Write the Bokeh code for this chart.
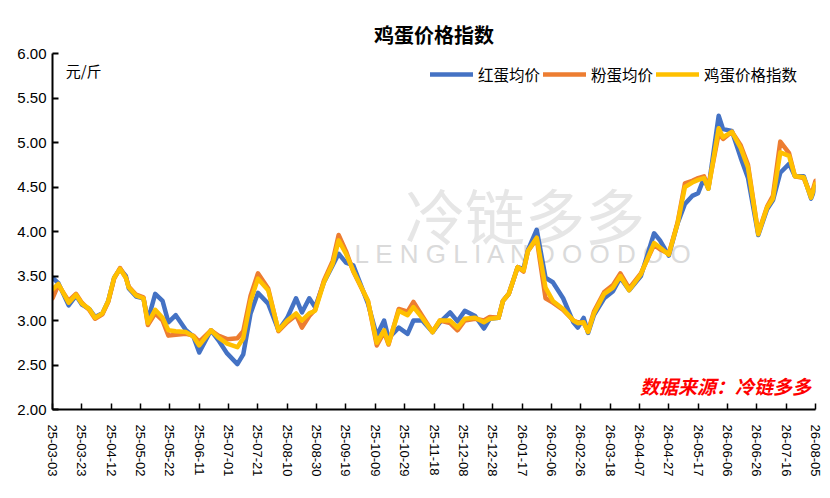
import pandas as pd
from bokeh.plotting import figure
from bokeh.models import (FixedTicker, DatetimeTickFormatter, Range1d, Legend,
                          LegendItem, Label, ColumnDataSource)
from bokeh.embed import file_html
from bokeh.resources import INLINE

# ---------------- data ----------------
dates = [
    "2025-03-03", "2025-03-07", "2025-03-14", "2025-03-19", "2025-03-23", "2025-03-28",
    "2025-04-01", "2025-04-06", "2025-04-10", "2025-04-14", "2025-04-18", "2025-04-22",
    "2025-04-24", "2025-04-29", "2025-05-04", "2025-05-07", "2025-05-12", "2025-05-17",
    "2025-05-21", "2025-05-26", "2025-06-02", "2025-06-07", "2025-06-11", "2025-06-19",
    "2025-06-24", "2025-06-30", "2025-07-07", "2025-07-11", "2025-07-16", "2025-07-21",
    "2025-07-28", "2025-08-04", "2025-08-10", "2025-08-16", "2025-08-20", "2025-08-25",
    "2025-08-29", "2025-09-04", "2025-09-10", "2025-09-14", "2025-09-19", "2025-09-24",
    "2025-10-04", "2025-10-10", "2025-10-15", "2025-10-18", "2025-10-25", "2025-10-31",
    "2025-11-04", "2025-11-10", "2025-11-17", "2025-11-22", "2025-11-29", "2025-12-04",
    "2025-12-09", "2025-12-16", "2025-12-22", "2025-12-26", "2026-01-01", "2026-01-04",
    "2026-01-08", "2026-01-14", "2026-01-18", "2026-01-21", "2026-01-27", "2026-02-02",
    "2026-02-07", "2026-02-14", "2026-02-21", "2026-02-24", "2026-02-28", "2026-03-03",
    "2026-03-07", "2026-03-14", "2026-03-20", "2026-03-25", "2026-03-31", "2026-04-08",
    "2026-04-17", "2026-04-21", "2026-04-27", "2026-05-03", "2026-05-08", "2026-05-13",
    "2026-05-17", "2026-05-21", "2026-05-24", "2026-05-31", "2026-06-03", "2026-06-09",
    "2026-06-15", "2026-06-20", "2026-06-27", "2026-07-03", "2026-07-07", "2026-07-12",
    "2026-07-18", "2026-07-22", "2026-07-28", "2026-08-02", "2026-08-05",
]

red_egg = [  # 红蛋均价
    3.48, 3.42, 3.17, 3.28, 3.18, 3.13, 3.04, 3.08, 3.22, 3.48, 3.58, 3.50,
    3.36, 3.27, 3.25, 3.00, 3.30, 3.22, 2.98, 3.06, 2.89, 2.82, 2.64, 2.89,
    2.78, 2.63, 2.51, 2.62, 3.08, 3.31, 3.19, 2.89, 3.03, 3.25, 3.09, 3.25,
    3.15, 3.43, 3.62, 3.75, 3.65, 3.62, 3.19, 2.83, 3.00, 2.80, 2.92, 2.85,
    3.00, 3.00, 2.87, 2.98, 3.09, 2.99, 3.11, 3.05, 2.91, 3.02, 3.03, 3.22,
    3.30, 3.60, 3.58, 3.79, 4.02, 3.48, 3.43, 3.25, 2.98, 2.92, 3.03, 2.86,
    3.06, 3.25, 3.33, 3.48, 3.34, 3.50, 3.98, 3.90, 3.73, 4.09, 4.31, 4.40,
    4.43, 4.60, 4.48, 5.30, 5.15, 5.13, 4.83, 4.60, 3.96, 4.25, 4.35, 4.66,
    4.76, 4.62, 4.62, 4.37, 4.50,
]

pink_egg = [  # 粉蛋均价
    3.25, 3.40, 3.22, 3.30, 3.20, 3.12, 3.02, 3.07, 3.21, 3.47, 3.59, 3.48,
    3.38, 3.29, 3.26, 2.95, 3.08, 3.00, 2.83, 2.84, 2.85, 2.83, 2.76, 2.89,
    2.83, 2.79, 2.80, 2.88, 3.28, 3.53, 3.36, 2.88, 2.98, 3.06, 2.92, 3.05,
    3.12, 3.45, 3.67, 3.96, 3.78, 3.55, 3.22, 2.72, 2.87, 2.73, 3.13, 3.10,
    3.21, 3.05, 2.87, 3.00, 2.97, 2.89, 3.00, 3.02, 3.00, 3.04, 3.03, 3.22,
    3.30, 3.60, 3.55, 3.78, 3.92, 3.25, 3.20, 3.12, 3.00, 2.98, 2.97, 2.88,
    3.10, 3.32, 3.40, 3.53, 3.36, 3.53, 3.85, 3.80, 3.75, 4.10, 4.54, 4.57,
    4.60, 4.62, 4.50, 5.10, 5.04, 5.12, 4.97, 4.75, 3.98, 4.28, 4.40, 5.01,
    4.88, 4.62, 4.60, 4.40, 4.57,
]

egg_index = [  # 鸡蛋价格指数
    3.35, 3.41, 3.20, 3.29, 3.19, 3.13, 3.03, 3.08, 3.22, 3.48, 3.58, 3.48,
    3.37, 3.28, 3.25, 2.97, 3.12, 3.03, 2.89, 2.88, 2.87, 2.82, 2.72, 2.89,
    2.81, 2.74, 2.70, 2.80, 3.22, 3.47, 3.34, 2.89, 3.00, 3.08, 3.00, 3.08,
    3.11, 3.43, 3.64, 3.90, 3.75, 3.56, 3.22, 2.75, 2.89, 2.74, 3.11, 3.06,
    3.15, 3.03, 2.87, 3.00, 3.00, 2.92, 3.02, 3.03, 2.98, 3.02, 3.03, 3.22,
    3.30, 3.60, 3.56, 3.78, 3.93, 3.37, 3.22, 3.13, 3.00, 2.97, 2.98, 2.87,
    3.08, 3.30, 3.37, 3.50, 3.34, 3.52, 3.87, 3.82, 3.74, 4.09, 4.50, 4.55,
    4.58, 4.60, 4.48, 5.16, 5.06, 5.12, 4.94, 4.72, 3.97, 4.27, 4.37, 4.89,
    4.85, 4.62, 4.61, 4.38, 4.54,
]

series_names = ["红蛋均价", "粉蛋均价", "鸡蛋价格指数"]
series_colors = ["#4472C4", "#ED7D31", "#FFC000"]

x_tick_labels = [
    "25-03-03", "25-03-23", "25-04-12", "25-05-02", "25-05-22", "25-06-11",
    "25-07-01", "25-07-21", "25-08-10", "25-08-30", "25-09-19", "25-10-09",
    "25-10-29", "25-11-18", "25-12-08", "25-12-28", "26-01-17", "26-02-06",
    "26-02-26", "26-03-18", "26-04-07", "26-04-27", "26-05-17", "26-06-06",
    "26-06-26", "26-07-16", "26-08-05",
]
y_ticks = [2.0, 2.5, 3.0, 3.5, 4.0, 4.5, 5.0, 5.5, 6.0]

title_text = "鸡蛋价格指数"
unit_text = "元/斤"
source_text = "数据来源：冷链多多"

# ---------------- figure ----------------
x = pd.to_datetime(dates)
src = ColumnDataSource(dict(x=x, red=red_egg, pink=pink_egg, idx=egg_index))

tick_dates = pd.to_datetime(["20" + t for t in x_tick_labels])
tick_ms = [int(t.value // 10**6) for t in tick_dates]

def ms(d):
    return pd.Timestamp(d).value / 10**6

p = figure(width=822, height=490, x_axis_type="datetime",
           output_backend="svg", toolbar_location=None,
           x_range=Range1d(ms(dates[0]), ms(dates[-1])),
           y_range=Range1d(2, 6),
           min_border_left=52, min_border_right=7,
           min_border_top=53, min_border_bottom=81)

p.title.text = title_text
p.title.align = "center"
p.title.text_font = "Noto Sans CJK SC"
p.title.text_font_size = "20px"
p.title.text_font_style = "bold"
p.title.text_color = "#000000"
p.title.offset = -8

p.outline_line_color = None
p.xgrid.visible = False
p.ygrid.visible = False

# watermark
p.add_layout(Label(x=ms("2026-01-19"), y=4.2, text="冷链多多",
                   text_font="Noto Sans CJK SC", text_font_size="60px",
                   text_color="#e6e6e6", text_align="center",
                   text_baseline="middle", level="underlay"))
p.add_layout(Label(x=ms("2026-01-19"), y=3.75, text="L E N G L I A N D O O D O O",
                   text_font="Liberation Sans", text_font_size="26px",
                   text_color="#dadada", text_align="center",
                   text_baseline="middle", level="underlay"))

renderers = []
for col, name, color in zip(["red", "pink", "idx"], series_names, series_colors):
    r = p.line("x", col, source=src, line_color=color, line_width=4.5,
               line_join="round", line_cap="round")
    renderers.append(r)

legend = Legend(items=[LegendItem(label=n, renderers=[r])
                       for n, r in zip(series_names, renderers)],
                orientation="horizontal", location=(378, 324),
                border_line_color=None, background_fill_alpha=0,
                padding=0, margin=0, spacing=3, label_standoff=5,
                glyph_width=43, glyph_height=16,
                label_text_font="Noto Sans CJK SC", label_text_font_size="15.5px",
                label_text_color="#000000")
p.add_layout(legend)

# axes
xa = p.xaxis[0]
xa.ticker = FixedTicker(ticks=tick_ms)
fmt = "%y-%m-%d"
xa.formatter = DatetimeTickFormatter(milliseconds=fmt, seconds=fmt, minsec=fmt,
                                     minutes=fmt, hourmin=fmt, hours=fmt,
                                     days=fmt, months=fmt, years=fmt)
xa.major_label_orientation = "vertical"
xa.major_label_text_font = "Liberation Sans"
xa.major_label_text_font_size = "13px"
xa.major_label_text_color = "#000000"
xa.major_label_standoff = 15
xa.major_tick_in = 6
xa.major_tick_out = 0
xa.minor_tick_in = 0
xa.minor_tick_out = 0
xa.axis_line_width = 2
xa.major_tick_line_width = 1.5
xa.axis_line_color = "#000000"

ya = p.yaxis[0]
ya.ticker = FixedTicker(ticks=y_ticks)
ya.major_label_overrides = {v: f"{v:.2f}" for v in y_ticks}
ya.major_label_text_font = "Liberation Sans Narrow, Liberation Sans"
ya.major_label_text_font_size = "15px"
ya.major_label_text_color = "#000000"
ya.major_label_standoff = 6
ya.major_tick_in = 6
ya.major_tick_out = 0
ya.minor_tick_in = 0
ya.minor_tick_out = 0
ya.axis_line_width = 2
ya.major_tick_line_width = 2
ya.axis_line_color = "#000000"

# unit and source labels
p.add_layout(Label(x=ms("2025-03-12"), y=5.81, text=unit_text,
                   text_font="Noto Sans CJK SC", text_font_size="15px",
                   text_color="#000000", text_baseline="middle"))
p.add_layout(Label(x=ms("2026-08-02"), y=2.27, text=source_text,
                   text_font="Noto Sans CJK SC", text_font_size="19px",
                   text_font_style="bold italic", text_color="#FF0000",
                   text_align="right", text_baseline="middle"))

open("out.html", "w").write(file_html(p, INLINE))
